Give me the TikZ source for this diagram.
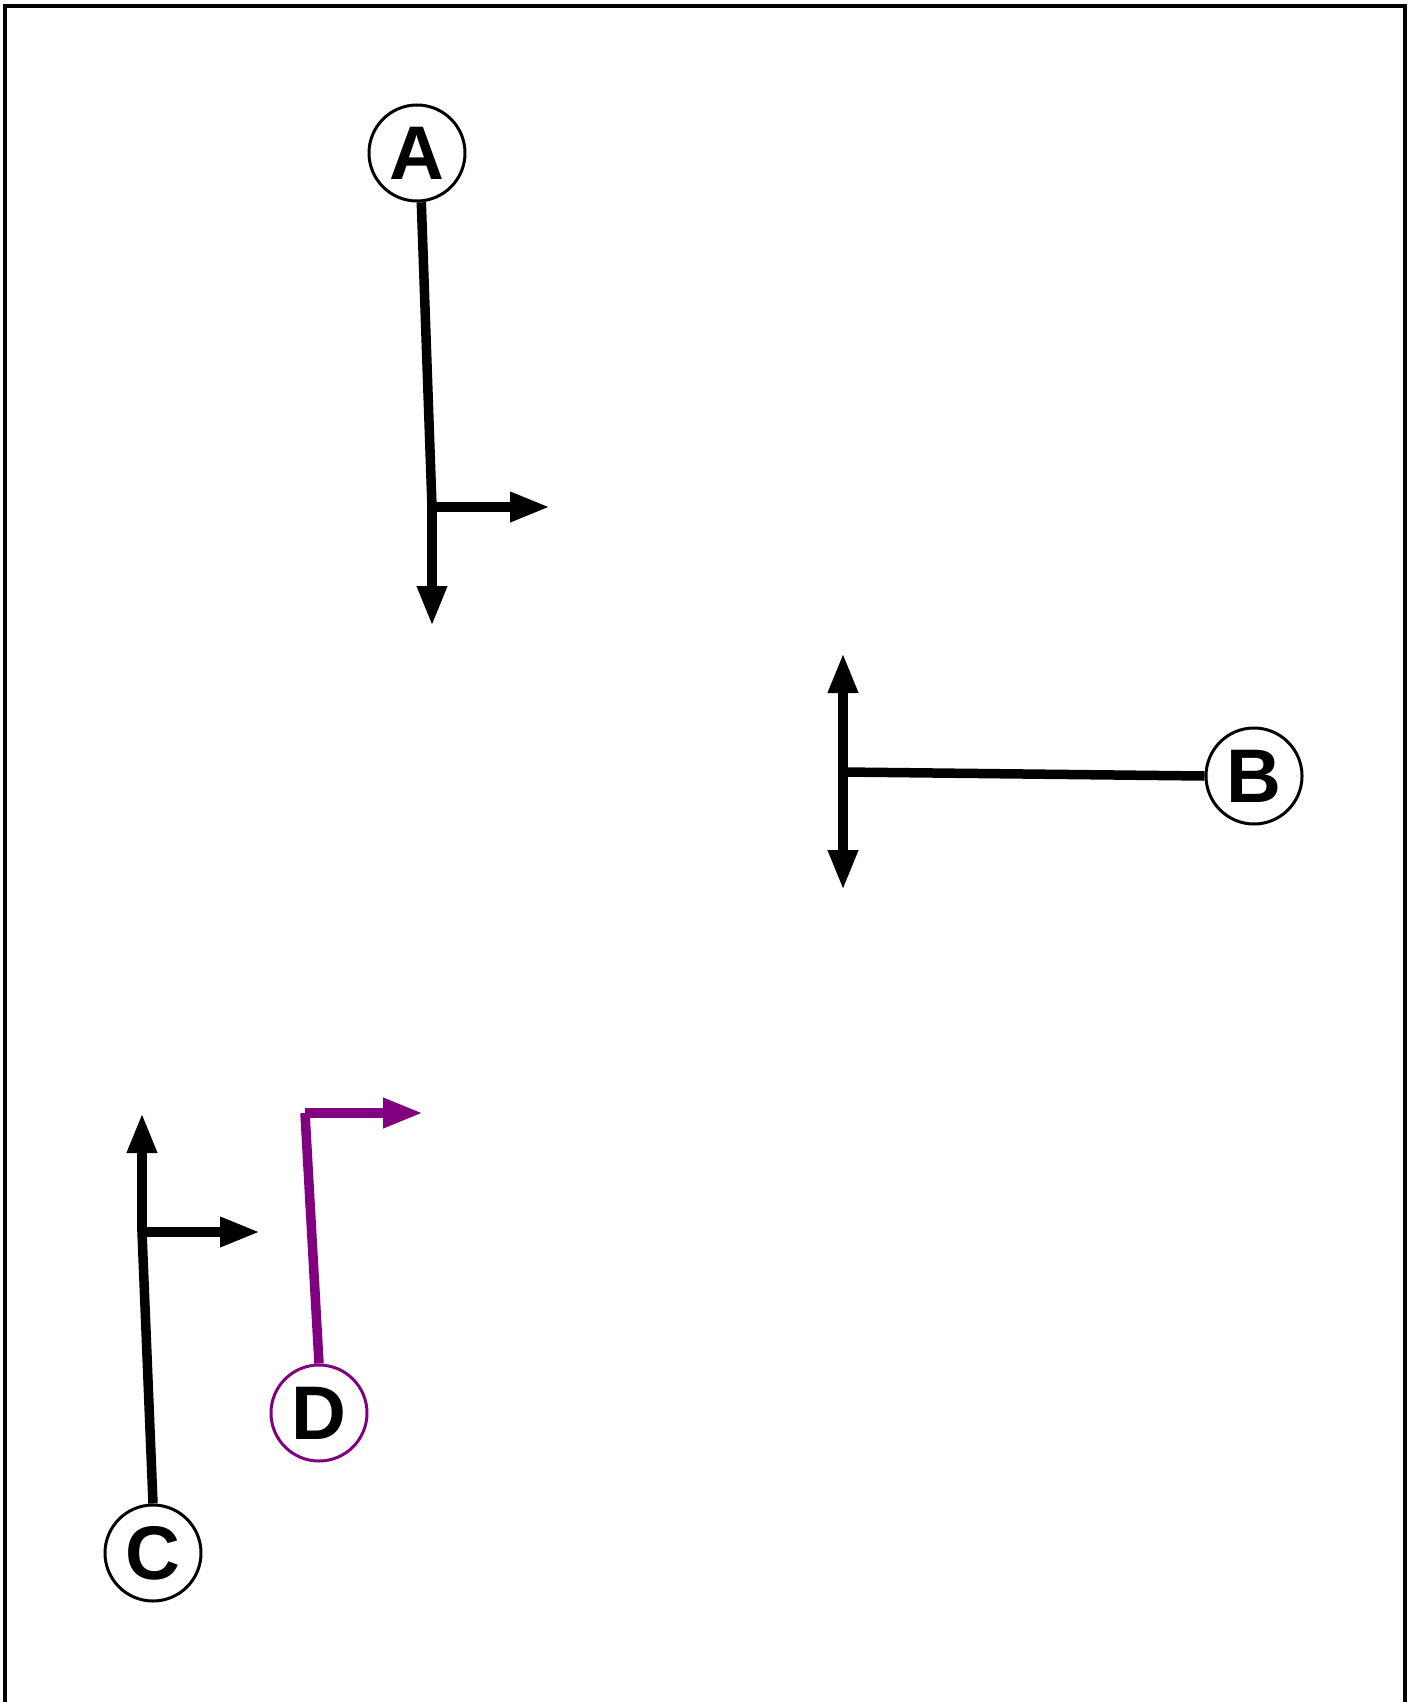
\documentclass[tikz,border=0pt]{standalone}
\usepackage{fontspec}
\setmainfont{Liberation Sans}
\usepackage{tikz}
\usetikzlibrary{arrows.meta}
\definecolor{Plum}{HTML}{800080}

\begin{document}
\begin{tikzpicture}[x=0.5pt,y=-0.5pt,
  player/.style={draw,circle,line width=1.5pt,minimum size=48pt,inner sep=0pt,fill=white,
    font=\fontsize{38}{40}\selectfont\bfseries},
  route/.style={line width=4.75pt},
  move/.style={line width=4.75pt,-{Triangle[length=20pt,width=14pt]}},
  twoway/.style={line width=4.75pt,{Triangle[length=20pt,width=14pt]}-{Triangle[length=20pt,width=14pt]}}]
  \useasboundingbox (0,0) rectangle (1415,1702);
  \draw[line width=2pt] (5,1720) -- (5,6) -- (1405,6) -- (1405,1720);
  % players
  \node[player] (A) at (417,153) {A};
  \node[player] (B) at (1254,776) {B};
  \node[player] (C) at (153,1553) {C};
  \node[player,draw=Plum] (D) at (319,1413) {D};
  % break points and arrow ends
  \coordinate (a1) at (432,507);
  \coordinate (a2) at (550,507);
  \coordinate (a3) at (432,626);
  \coordinate (b1) at (843,772);
  \coordinate (b2) at (843,653);
  \coordinate (b3) at (843,890);
  \coordinate (c1) at (142,1232);
  \coordinate (c2) at (142,1113);
  \coordinate (c3) at (260,1232);
  \coordinate (d1) at (305,1113);
  \coordinate (d2) at (423,1113);
  % routes
  \draw[route] (A.-85) -- (a1);
  \draw[move] (a1) -- (a2);
  \draw[move] (a1) -- (a3);
  \draw[route] (B.180) -- (b1);
  \draw[twoway] (b2) -- (b3);
  \draw[route] (C.90) -- (c1);
  \draw[move] (c1) -- (c2);
  \draw[move] (c1) -- (c3);
  \draw[route,Plum] (D.90) -- (d1);
  \draw[move,Plum] (d1) -- (d2);
\end{tikzpicture}
\end{document}
